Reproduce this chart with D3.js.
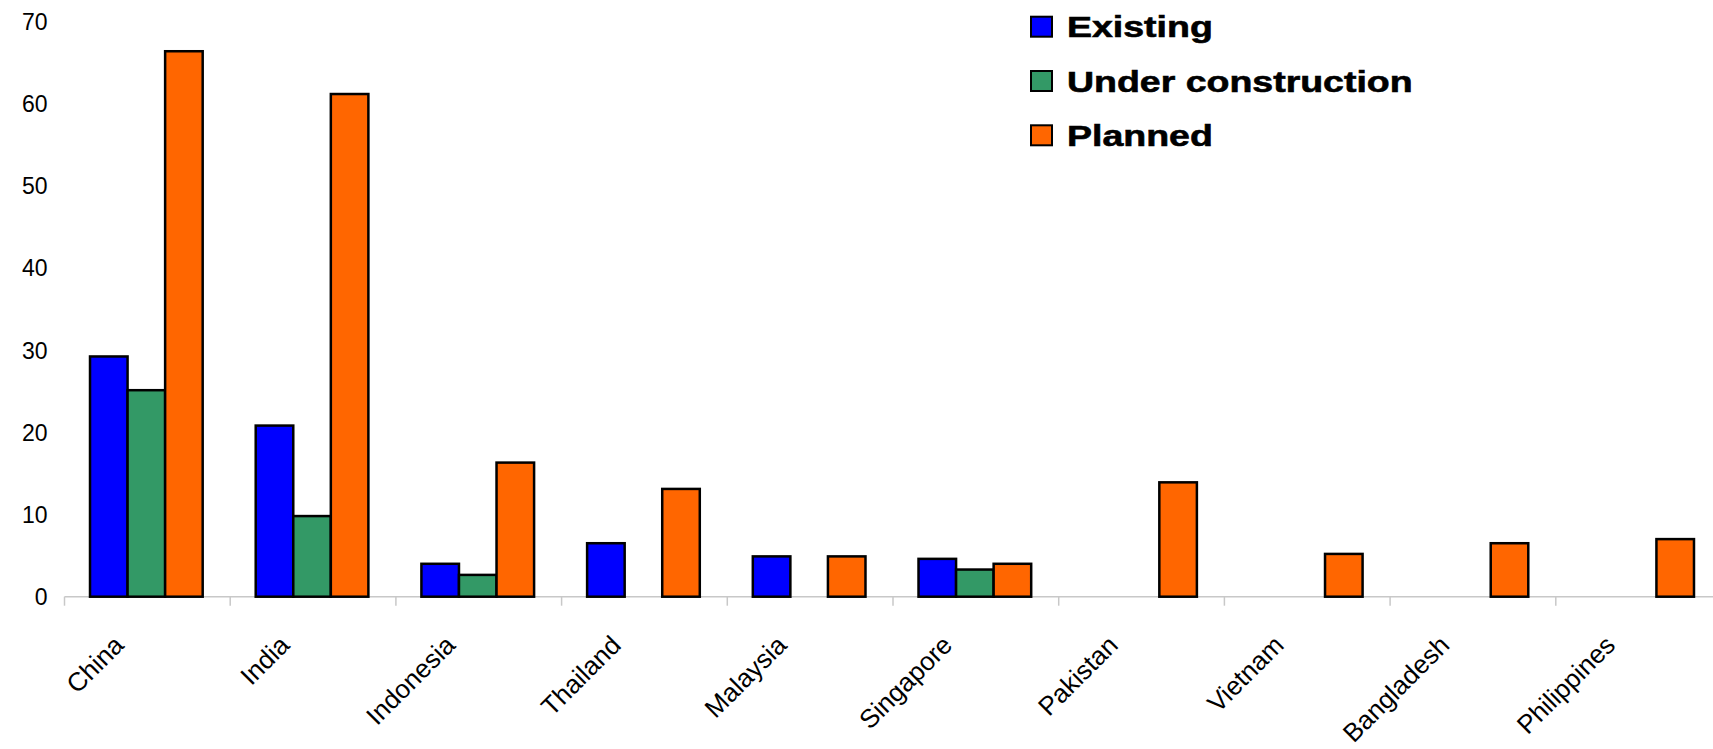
<!DOCTYPE html>
<html>
<head>
<meta charset="utf-8">
<script src="https://cdn.jsdelivr.net/npm/d3@7"></script>
<style>
  html, body { margin: 0; padding: 0; background: #fff; }
  svg { display: block; }
  text { font-family: "Liberation Sans", Arial, sans-serif; fill: #000; }
</style>
</head>
<body>
<svg id="chart" width="1713" height="749"></svg>
<script>
// Coal-fired capacity by country (GW)
const countries = ["China", "India", "Indonesia", "Thailand", "Malaysia",
                   "Singapore", "Pakistan", "Vietnam", "Bangladesh", "Philippines"];
const seriesNames = ["Existing", "Under construction", "Planned"];
const existing          = [29.2, 20.8, 4.0, 6.5, 4.9, 4.6, 0, 0, 0, 0];
const underConstruction = [25.1,  9.8, 2.65, 0, 0, 3.3, 0, 0, 0, 0];
const planned           = [66.3, 61.1, 16.3, 13.1, 4.9, 4.0, 13.9, 5.2, 6.5, 7.0];
const seriesColors = ["#0000FF", "#339966", "#FF6600"];
const yTicks = [0, 10, 20, 30, 40, 50, 60, 70];

const seriesValues = [existing, underConstruction, planned];
const rows = countries.map((c, i) => ({
  country: c,
  values: seriesNames.map((s, j) => ({ series: s, idx: j, value: seriesValues[j][i] }))
}));

const svg = d3.select("#chart");
const plotLeft = 64.5, plotRight = 1721.5, plotTop = 20.8, plotBottom = 596.7;

const x = d3.scaleBand().domain(countries).range([plotLeft, plotRight]).padding(0);
const groupFrac = 0.68;
const xInner = d3.scaleBand().domain(seriesNames)
  .range([x.bandwidth() * (1 - groupFrac) / 2 - 1, x.bandwidth() * (1 + groupFrac) / 2 - 1])
  .padding(0);
const y = d3.scaleLinear().domain([0, 70]).range([plotBottom, plotTop]);

// Y tick labels (no axis line)
const yAxis = d3.axisLeft(y).tickValues(yTicks).tickSize(0).tickPadding(0).tickFormat(d3.format("d"));
const yG = svg.append("g").attr("transform", `translate(${plotLeft - 17},0)`).call(yAxis);
yG.select(".domain").remove();
yG.selectAll("text").attr("font-size", 23).attr("font-family", "Liberation Sans, Arial, sans-serif")
  .attr("fill", "#000").attr("dy", "0.36em");

// X axis line with category separators
const xAxisG = svg.append("g");
xAxisG.append("line")
  .attr("x1", plotLeft).attr("x2", plotRight)
  .attr("y1", plotBottom).attr("y2", plotBottom)
  .attr("stroke", "#c8c8c8").attr("stroke-width", 1.5);
const sepPositions = countries.map(c => x(c)).concat([plotRight]);
xAxisG.selectAll("line.sep").data(sepPositions).join("line")
  .attr("class", "sep")
  .attr("x1", d => d).attr("x2", d => d)
  .attr("y1", plotBottom).attr("y2", plotBottom + 9)
  .attr("stroke", "#c8c8c8").attr("stroke-width", 1.5);

// Bars
const groups = svg.append("g").selectAll("g.grp").data(rows).join("g")
  .attr("class", "grp")
  .attr("transform", d => `translate(${x(d.country)},0)`);
groups.selectAll("rect").data(d => d.values.filter(v => v.value > 0)).join("rect")
  .attr("x", d => xInner(d.series))
  .attr("width", xInner.bandwidth())
  .attr("y", d => y(d.value))
  .attr("height", d => y(0) - y(d.value))
  .attr("fill", d => seriesColors[d.idx])
  .attr("stroke", "#000")
  .attr("stroke-width", 2.5);

// Rotated category labels
svg.append("g").selectAll("text").data(countries).join("text")
  .attr("text-anchor", "end")
  .attr("font-size", 26)
  .attr("transform", d => `translate(${x(d) + x.bandwidth() / 2 - 22},${plotBottom + 50}) rotate(-45)`)
  .text(d => d);

// Legend
const legend = svg.append("g").attr("transform", "translate(1031,0)");
const legendRows = legend.selectAll("g").data(seriesNames).join("g")
  .attr("transform", (d, i) => `translate(0,${26.7 + i * 54.3})`);
legendRows.append("rect")
  .attr("x", 0).attr("y", -10).attr("width", 21).attr("height", 20)
  .attr("fill", (d, i) => seriesColors[i])
  .attr("stroke", "#000").attr("stroke-width", 2);
legendRows.append("text")
  .attr("transform", "translate(36,10.5) scale(1.25,1)")
  .attr("font-size", 30)
  .attr("font-weight", "bold")
  .attr("stroke", "#000")
  .attr("stroke-width", 0.6)
  .text(d => d);
</script>
</body>
</html>
